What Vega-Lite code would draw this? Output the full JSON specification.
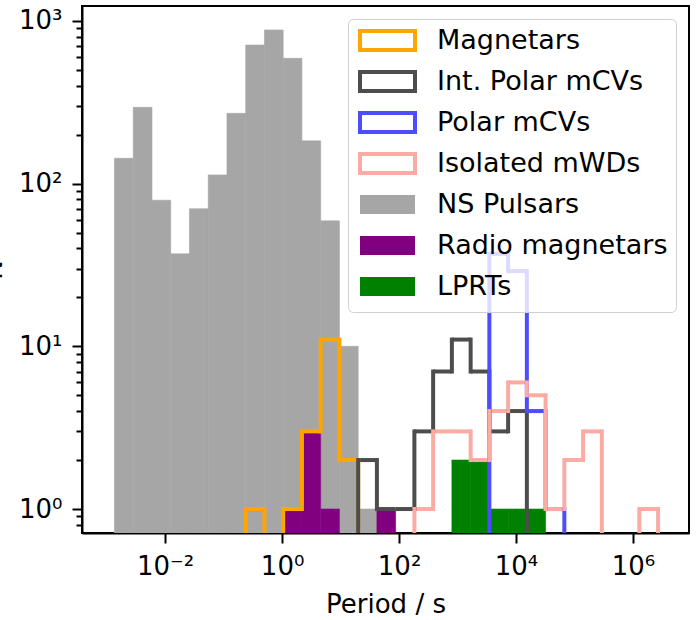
{
  "$schema": "https://vega.github.io/schema/vega-lite/v6.json",
  "width": 607,
  "height": 527,
  "autosize": "none",
  "padding": {"left": 82, "top": 6, "right": 7, "bottom": 87},
  "background": "white",
  "config": {
    "font": "DejaVu Sans",
    "view": {"stroke": "black", "strokeWidth": 2},
    "axis": {
      "grid": false,
      "domainColor": "black",
      "domainWidth": 2,
      "tickColor": "black",
      "tickWidth": 2,
      "labelFont": "DejaVu Sans",
      "labelFontSize": 26,
      "labelColor": "black",
      "titleFont": "DejaVu Sans",
      "titleFontSize": 26,
      "titleFontWeight": "normal",
      "titleColor": "black"
    },
    "legend": {
      "title": null,
      "orient": "top-right",
      "offset": 13,
      "padding": 8,
      "rowPadding": 6,
      "labelFont": "DejaVu Sans",
      "labelFontSize": 27,
      "labelColor": "black",
      "labelLimit": 400,
      "labelOffset": 36,
      "symbolOffset": 18,
      "symbolType": "M-2.895,-1H2.895V1H-2.895Z",
      "symbolSize": 361,
      "symbolStrokeWidth": 4,
      "symbolOpacity": 1,
      "fillColor": "rgba(255,255,255,0.8)",
      "strokeColor": "#d0d0d0",
      "cornerRadius": 5
    }
  },
  "data": {
    "values": [
      {"series": "NS Pulsars", "lo": 0.0013614, "hi": 0.002848, "count": 143},
      {"series": "NS Pulsars", "lo": 0.002848, "hi": 0.005957, "count": 294},
      {"series": "NS Pulsars", "lo": 0.005957, "hi": 0.01246, "count": 79},
      {"series": "NS Pulsars", "lo": 0.01246, "hi": 0.02606, "count": 37},
      {"series": "NS Pulsars", "lo": 0.02606, "hi": 0.05451, "count": 70},
      {"series": "NS Pulsars", "lo": 0.05451, "hi": 0.11402, "count": 113},
      {"series": "NS Pulsars", "lo": 0.11402, "hi": 0.2385, "count": 270},
      {"series": "NS Pulsars", "lo": 0.2385, "hi": 0.49888, "count": 710},
      {"series": "NS Pulsars", "lo": 0.49888, "hi": 1.0435, "count": 879},
      {"series": "NS Pulsars", "lo": 1.0435, "hi": 2.1827, "count": 587},
      {"series": "NS Pulsars", "lo": 2.1827, "hi": 4.5656, "count": 180},
      {"series": "NS Pulsars", "lo": 4.5656, "hi": 9.5499, "count": 58},
      {"series": "NS Pulsars", "lo": 9.5499, "hi": 19.976, "count": 10},
      {"series": "NS Pulsars", "lo": 19.976, "hi": 41.783, "count": 1},

      {"series": "Radio magnetars", "lo": 1.0435, "hi": 2.1827, "count": 1},
      {"series": "Radio magnetars", "lo": 2.1827, "hi": 4.5656, "count": 3},
      {"series": "Radio magnetars", "lo": 4.5656, "hi": 9.5499, "count": 1},
      {"series": "Radio magnetars", "lo": 41.783, "hi": 87.398, "count": 1},

      {"series": "LPRTs", "lo": 799.83, "hi": 1673.0, "count": 2},
      {"series": "LPRTs", "lo": 1673.0, "hi": 3499.5, "count": 2},
      {"series": "LPRTs", "lo": 3499.5, "hi": 7320.0, "count": 1},
      {"series": "LPRTs", "lo": 7320.0, "hi": 15311, "count": 1},
      {"series": "LPRTs", "lo": 15311, "hi": 32026, "count": 1},

      {"series": "Magnetars", "lo": 0.11402, "hi": 0.2385, "count": 0},
      {"series": "Magnetars", "lo": 0.2385, "hi": 0.49888, "count": 1},
      {"series": "Magnetars", "lo": 0.49888, "hi": 1.0435, "count": 0},
      {"series": "Magnetars", "lo": 1.0435, "hi": 2.1827, "count": 1},
      {"series": "Magnetars", "lo": 2.1827, "hi": 4.5656, "count": 3},
      {"series": "Magnetars", "lo": 4.5656, "hi": 9.5499, "count": 11},
      {"series": "Magnetars", "lo": 9.5499, "hi": 19.976, "count": 2},
      {"series": "Magnetars", "lo": 19.976, "hi": 41.783, "count": 0},

      {"series": "Int. Polar mCVs", "lo": 9.5499, "hi": 19.976, "count": 0},
      {"series": "Int. Polar mCVs", "lo": 19.976, "hi": 41.783, "count": 2},
      {"series": "Int. Polar mCVs", "lo": 41.783, "hi": 87.398, "count": 1},
      {"series": "Int. Polar mCVs", "lo": 87.398, "hi": 182.81, "count": 1},
      {"series": "Int. Polar mCVs", "lo": 182.81, "hi": 382.39, "count": 3},
      {"series": "Int. Polar mCVs", "lo": 382.39, "hi": 799.83, "count": 7},
      {"series": "Int. Polar mCVs", "lo": 799.83, "hi": 1673.0, "count": 11},
      {"series": "Int. Polar mCVs", "lo": 1673.0, "hi": 3499.5, "count": 7},
      {"series": "Int. Polar mCVs", "lo": 3499.5, "hi": 7320.0, "count": 3},
      {"series": "Int. Polar mCVs", "lo": 7320.0, "hi": 15311, "count": 4},
      {"series": "Int. Polar mCVs", "lo": 15311, "hi": 32026, "count": 0},

      {"series": "Polar mCVs", "lo": 1673.0, "hi": 3499.5, "count": 0},
      {"series": "Polar mCVs", "lo": 3499.5, "hi": 7320.0, "count": 37},
      {"series": "Polar mCVs", "lo": 7320.0, "hi": 15311, "count": 29},
      {"series": "Polar mCVs", "lo": 15311, "hi": 32026, "count": 4},
      {"series": "Polar mCVs", "lo": 32026, "hi": 66988, "count": 1},
      {"series": "Polar mCVs", "lo": 66988, "hi": 140120, "count": 0},

      {"series": "Isolated mWDs", "lo": 87.398, "hi": 182.81, "count": 0},
      {"series": "Isolated mWDs", "lo": 182.81, "hi": 382.39, "count": 1},
      {"series": "Isolated mWDs", "lo": 382.39, "hi": 799.83, "count": 3},
      {"series": "Isolated mWDs", "lo": 799.83, "hi": 1673.0, "count": 3},
      {"series": "Isolated mWDs", "lo": 1673.0, "hi": 3499.5, "count": 2},
      {"series": "Isolated mWDs", "lo": 3499.5, "hi": 7320.0, "count": 4},
      {"series": "Isolated mWDs", "lo": 7320.0, "hi": 15311, "count": 6},
      {"series": "Isolated mWDs", "lo": 15311, "hi": 32026, "count": 5},
      {"series": "Isolated mWDs", "lo": 32026, "hi": 66988, "count": 1},
      {"series": "Isolated mWDs", "lo": 66988, "hi": 140120, "count": 2},
      {"series": "Isolated mWDs", "lo": 140120, "hi": 293090, "count": 3},
      {"series": "Isolated mWDs", "lo": 293090, "hi": 613050, "count": 0},
      {"series": "Isolated mWDs", "lo": 613050, "hi": 1282300, "count": 0},
      {"series": "Isolated mWDs", "lo": 1282300, "hi": 2682200, "count": 1},
      {"series": "Isolated mWDs", "lo": 2682200, "hi": 5610500, "count": 0}
    ]
  },
  "encoding": {
    "x": {
      "field": "lo",
      "type": "quantitative",
      "scale": {"type": "log", "domain": [0.0004613, 7447000], "nice": false, "zero": false},
      "axis": {
        "values": [0.01, 1, 100, 10000, 1000000],
        "tickSize": 10,
        "labelPadding": 10,
        "labelExpr": "'10' + (round(log(datum.value)/LN10) < 0 ? '⁻' : '') + ['⁰','¹','²','³','⁴','⁵','⁶','⁷','⁸','⁹'][abs(round(log(datum.value)/LN10))]",
        "title": "Period / s",
        "titlePadding": 12
      }
    },
    "y": {
      "field": "count",
      "type": "quantitative",
      "scale": {"type": "log", "domain": [0.7124, 1233.6], "nice": false, "zero": false, "clamp": true},
      "axis": {
        "values": [0.8, 0.9, 1, 2, 3, 4, 5, 6, 7, 8, 9, 10, 20, 30, 40, 50, 60, 70, 80, 90, 100, 200, 300, 400, 500, 600, 700, 800, 900, 1000],
        "tickSize": {"condition": {"test": "abs(log(datum.value)/LN10 - round(log(datum.value)/LN10)) > 0.000001", "value": 6}, "value": 10},
        "labelPadding": 10,
        "labelExpr": "abs(log(datum.value)/LN10 - round(log(datum.value)/LN10)) > 0.000001 ? '' : '10' + ['⁰','¹','²','³','⁴','⁵','⁶'][round(log(datum.value)/LN10)]",
        "title": "N",
        "titleX": -81,
        "titleBaseline": "alphabetic"
      }
    }
  },
  "layer": [
    {
      "transform": [{"filter": {"field": "series", "oneOf": ["NS Pulsars", "Radio magnetars", "LPRTs"]}}],
      "mark": {"type": "bar", "orient": "vertical", "clip": true, "stroke": {"expr": "scale('fill', datum.series)"}, "strokeWidth": 0.6},
      "encoding": {
        "x2": {"field": "hi"},
        "fill": {
          "field": "series",
          "type": "nominal",
          "scale": {
            "domain": ["Magnetars", "Int. Polar mCVs", "Polar mCVs", "Isolated mWDs", "NS Pulsars", "Radio magnetars", "LPRTs"],
            "range": ["white", "white", "white", "white", "#a6a6a6", "#800080", "#008000"]
          }
        }
      }
    },
    {
      "transform": [
        {"filter": {"field": "series", "oneOf": ["Magnetars", "Int. Polar mCVs", "Polar mCVs", "Isolated mWDs"]}},
        {"filter": "datum.count > 0"}
      ],
      "mark": {"type": "rule", "strokeWidth": 4, "strokeCap": "butt", "clip": true},
      "encoding": {
        "x2": {"field": "hi"},
        "stroke": {
          "field": "series",
          "type": "nominal",
          "scale": {
            "domain": ["Magnetars", "Int. Polar mCVs", "Polar mCVs", "Isolated mWDs", "NS Pulsars", "Radio magnetars", "LPRTs"],
            "range": ["#ffa500", "#4d4d4d", "#4d4dff", "#fbaba3", "transparent", "transparent", "transparent"]
          }
        }
      }
    },
    {
      "transform": [
        {"filter": {"field": "series", "oneOf": ["Magnetars", "Int. Polar mCVs", "Polar mCVs", "Isolated mWDs"]}},
        {"window": [{"op": "lag", "field": "count", "as": "prev"}], "groupby": ["series"], "sort": [{"field": "lo"}]},
        {"filter": "datum.prev != null && datum.prev != datum.count"}
      ],
      "mark": {"type": "rule", "strokeWidth": 4, "strokeCap": "square", "clip": true},
      "encoding": {
        "y2": {"field": "prev"},
        "stroke": {"field": "series", "type": "nominal"}
      }
    }
  ]
}
